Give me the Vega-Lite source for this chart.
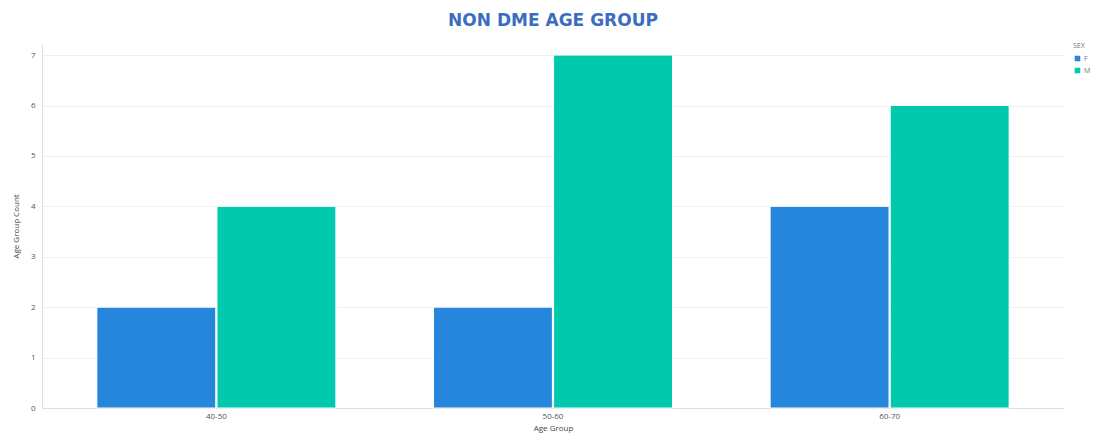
{
  "$schema": "https://vega.github.io/schema/vega-lite/v6.json",
  "autosize": {"type": "none"},
  "padding": {"left": 42, "top": 44, "right": 32, "bottom": 26},
  "width": 1022,
  "height": 364,
  "background": "white",
  "title": {
    "text": "NON DME AGE GROUP",
    "font": "DejaVu Sans",
    "fontSize": 17,
    "fontWeight": "bold",
    "color": "#3b6cc0",
    "anchor": "middle",
    "offset": 12
  },
  "data": {
    "values": [
      {"age_group": "40-50", "sex": "F", "count": 2},
      {"age_group": "40-50", "sex": "M", "count": 4},
      {"age_group": "50-60", "sex": "F", "count": 2},
      {"age_group": "50-60", "sex": "M", "count": 7},
      {"age_group": "60-70", "sex": "F", "count": 4},
      {"age_group": "60-70", "sex": "M", "count": 6}
    ]
  },
  "mark": {"type": "bar", "stroke": "white", "strokeWidth": 1},
  "encoding": {
    "x": {
      "field": "age_group",
      "type": "nominal",
      "title": "Age Group",
      "scale": {"paddingInner": 0.29, "paddingOuter": 0.163},
      "axis": {
        "labelAngle": 0,
        "labelFont": "Open Sans",
        "labelFontSize": 8,
        "labelColor": "#555555",
        "titleFont": "Open Sans",
        "titleFontSize": 8,
        "titleFontWeight": "normal",
        "titleColor": "#444444",
        "titlePadding": 4,
        "ticks": false,
        "labelPadding": 4,
        "domainColor": "#dddddd"
      }
    },
    "xOffset": {"field": "sex", "type": "nominal", "scale": {"paddingInner": 0.01}},
    "y": {
      "field": "count",
      "type": "quantitative",
      "title": "Age Group Count",
      "scale": {"domain": [0, 7.22], "nice": false},
      "axis": {
        "values": [0, 1, 2, 3, 4, 5, 6, 7],
        "labelFont": "Open Sans",
        "labelFontSize": 8,
        "labelColor": "#555555",
        "titleFont": "Open Sans",
        "titleFontSize": 8,
        "titleFontWeight": "normal",
        "titleColor": "#444444",
        "titlePadding": 10,
        "ticks": false,
        "labelPadding": 7,
        "domainColor": "#dddddd",
        "gridColor": "#f0f0f0"
      }
    },
    "color": {
      "field": "sex",
      "type": "nominal",
      "title": "SEX",
      "scale": {"domain": ["F", "M"], "range": ["#2686dc", "#00c9ae"]},
      "legend": {
        "orient": "none",
        "legendX": 1031,
        "legendY": -2,
        "titleFont": "Open Sans",
        "titleFontSize": 7,
        "titleFontWeight": "normal",
        "titleColor": "#777777",
        "labelFont": "Open Sans",
        "labelFontSize": 7,
        "labelColor": "#777777",
        "labelOffset": 2,
        "symbolType": "square",
        "symbolSize": 50,
        "rowPadding": -8,
        "titlePadding": 5
      }
    }
  },
  "config": {"view": {"stroke": null}}
}
